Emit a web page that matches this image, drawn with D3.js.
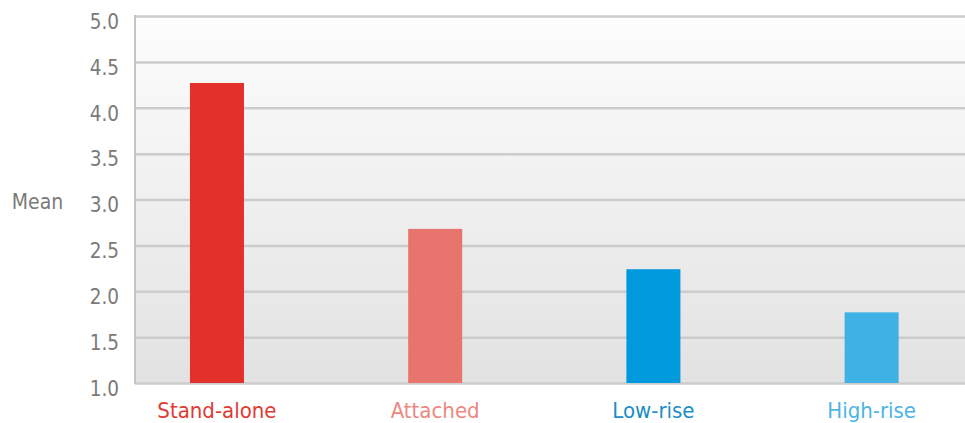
<!DOCTYPE html>
<html><head><meta charset="utf-8">
<script src="https://cdn.jsdelivr.net/npm/d3@7"></script>
<style>html,body{margin:0;padding:0;background:#fff;}svg{display:block;}</style>
</head><body>
<script>
const categories = ["Stand-alone", "Attached", "Low-rise", "High-rise"];
const values = [4.27, 2.68, 2.24, 1.77];
const barColors = ["#e3302a", "#e8746e", "#0099dd", "#40b1e5"];
const labelColors = ["#e03a34", "#ec8882", "#1a8ec6", "#4db4e2"];
const yTicks = [1.0, 1.5, 2.0, 2.5, 3.0, 3.5, 4.0, 4.5, 5.0];
const yLabel = "Mean";

const W = 965, H = 423;
const m = {left: 135, right: 0, top: 16, bottom: 40};
const FONT = "'DejaVu Sans Condensed','DejaVu Sans',sans-serif";
const svg = d3.select("body").append("svg").attr("width", W).attr("height", H);

const defs = svg.append("defs");
const grad = defs.append("linearGradient").attr("id", "bg").attr("x1", 0).attr("y1", 0).attr("x2", 0).attr("y2", 1);
grad.append("stop").attr("offset", "0%").attr("stop-color", "#fdfdfd");
grad.append("stop").attr("offset", "100%").attr("stop-color", "#e2e2e2");

const x = d3.scaleBand().domain(categories).range([m.left, W - m.right])
  .paddingInner(0.7525).paddingOuter(0.278).align(0.453);
const y = d3.scaleLinear().domain([1, 5]).range([H - m.bottom, m.top]);

svg.append("rect").attr("x", m.left).attr("y", y(5)).attr("width", W - m.left - m.right)
  .attr("height", y(1) - y(5)).attr("fill", "url(#bg)");

const yAxis = d3.axisLeft(y).tickValues(yTicks).tickFormat(d3.format(".1f")).tickSize(-(W - m.left - m.right)).tickPadding(16);
const gy = svg.append("g").attr("transform", `translate(${m.left},0)`).call(yAxis);
gy.select(".domain").remove();
gy.selectAll(".tick line").attr("stroke", "#cccccc").attr("stroke-width", 2.5);
gy.selectAll(".tick text").attr("fill", "#7a7a7a").attr("dy", "0.6em")
  .style("font-family", FONT).style("font-size", "20.5px");

svg.append("line").attr("x1", m.left).attr("x2", m.left).attr("y1", y(5) - 1).attr("y2", y(1) + 1)
  .attr("stroke", "#c4c4c4").attr("stroke-width", 2);

svg.append("g").selectAll("rect").data(categories).join("rect")
  .attr("x", d => x(d)).attr("width", x.bandwidth())
  .attr("y", (d, i) => y(values[i])).attr("height", (d, i) => y(1) - y(values[i]))
  .attr("fill", (d, i) => barColors[i]);

const xAxis = d3.axisBottom(x).tickSize(0).tickPadding(19);
const gx = svg.append("g").attr("transform", `translate(0,${y(1)})`).call(xAxis);
gx.select(".domain").remove();
gx.selectAll(".tick text").attr("fill", (d, i) => labelColors[i])
  .style("font-family", FONT).style("font-size", "22px");

svg.append("text").attr("x", 37.5).attr("y", y(3) + 2).attr("dy", "0.35em").attr("text-anchor", "middle")
  .attr("fill", "#7a7a7a").style("font-family", FONT)
  .style("font-size", "21px").text(yLabel);
</script>
</body></html>
